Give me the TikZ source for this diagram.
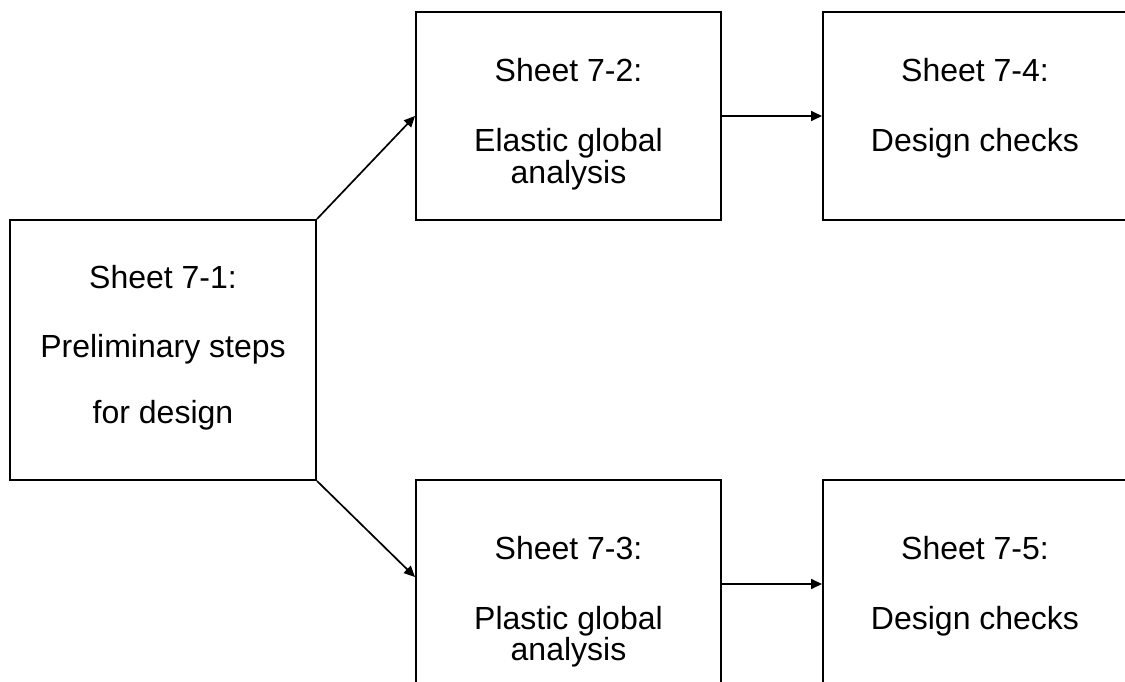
\documentclass[tikz,border=0pt]{standalone}
\usepackage{fontspec}
\setmainfont{Liberation Sans}
\usetikzlibrary{arrows.meta}
\begin{document}
\begin{tikzpicture}[x=1pt,y=-1pt,
  sheetbox/.style={draw=black, line width=2pt, rectangle, inner sep=0pt},
  txt/.style={anchor=base, inner sep=0pt, font=\fontsize{32}{32}\selectfont},
  flow/.style={line width=1.7pt, -{Triangle[length=11pt,width=10pt]}}]
  \useasboundingbox (0,0) rectangle (1125,682);
  \begin{scope}
    \clip (0,0) rectangle (1125,682);
    % sheet boxes
    \node[sheetbox, minimum width=306pt, minimum height=260pt] (s1) at (163,350) {};
    \node[sheetbox, minimum width=305pt, minimum height=208pt] (s2) at (568.5,116) {};
    \node[sheetbox, minimum width=305pt, minimum height=208pt] (s3) at (568.5,584) {};
    \node[sheetbox, minimum width=304pt, minimum height=208pt] (s4) at (975,116) {};
    \node[sheetbox, minimum width=304pt, minimum height=208pt] (s5) at (975,584) {};
  \end{scope}
  % labels
  \node[txt] (t1a) at (163,288) {Sheet 7-1:};
  \node[txt] (t1b) at (163,357) {Preliminary steps};
  \node[txt] (t1c) at (163,423) {for design};
  \node[txt] (t2a) at (568.5,82) {Sheet 7-2:};
  \node[txt] (t2b) at (568.5,152) {Elastic global};
  \node[txt] (t2c) at (568.5,183) {analysis};
  \node[txt] (t3a) at (568.5,559) {Sheet 7-3:};
  \node[txt] (t3b) at (568.5,629) {Plastic global};
  \node[txt] (t3c) at (568.5,660) {analysis};
  \node[txt] (t4a) at (975,82) {Sheet 7-4:};
  \node[txt] (t4b) at (975,152) {Design checks};
  \node[txt] (t5a) at (975,559) {Sheet 7-5:};
  \node[txt] (t5b) at (975,629) {Design checks};
  % connectors
  \draw[flow] (s1.north east) -- (s2.west);
  \draw[flow] (s1.south east) -- ([yshift=7pt]s3.west);
  \draw[flow] (s2.east) -- (s4.west);
  \draw[flow] (s3.east) -- (s5.west);
\end{tikzpicture}
\end{document}
